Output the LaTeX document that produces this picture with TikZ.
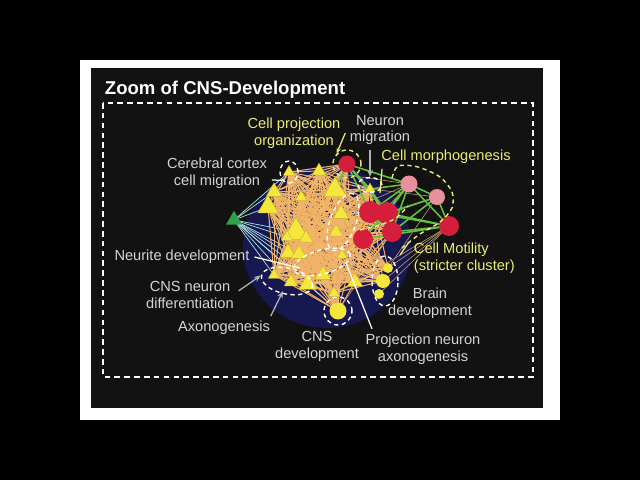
\documentclass[tikz,border=0pt]{standalone}
\usepackage{fontspec}
\setmainfont{Liberation Sans}
\usetikzlibrary{shapes.geometric,arrows.meta}

\definecolor{panelblack}{HTML}{121212}
\definecolor{blobnavy}{HTML}{17184F}
\definecolor{labelgrey}{HTML}{D4D4D4}
\definecolor{labelyel}{HTML}{ECEC74}
\definecolor{nodeyel}{HTML}{F4E63A}
\definecolor{nodered}{HTML}{D41E3C}
\definecolor{nodepink}{HTML}{E8909C}
\definecolor{meshorange}{HTML}{F2B468}
\definecolor{fancyan}{HTML}{A8E2E8}
\definecolor{linkgreen}{HTML}{62C43E}
\definecolor{linktan}{HTML}{C8A070}
\definecolor{leafgreen}{HTML}{2EA44A}

\pgfdeclarelayer{back}
\pgfdeclarelayer{links}
\pgfsetlayers{back,links,main}

\tikzset{
  tri/.style={regular polygon, regular polygon sides=3, fill=nodeyel, draw=nodeyel!75!black, line width=0.2pt, inner sep=0pt, minimum size=#1*0.033cm},
  dot/.style={circle, fill=nodeyel, inner sep=0pt, minimum size=#1*0.025cm},
  reddot/.style={circle, fill=nodered, inner sep=0pt, minimum size=#1*0.025cm},
  pinkdot/.style={circle, fill=nodepink, inner sep=0pt, minimum size=#1*0.025cm},
  lbl/.style={text=labelgrey, align=center},
  ylbl/.style={text=labelyel, align=center},
  clus/.style={draw=white, line width=1pt, dash pattern=on 3pt off 2.5pt, inner sep=0pt},
  yclus/.style={draw=labelyel, line width=1pt, dash pattern=on 3pt off 2.5pt, inner sep=0pt},
  pointer/.style={draw=white, line width=0.9pt},
  gpointer/.style={draw=labelgrey!85!black, line width=0.9pt, -{Stealth[length=5pt,width=4pt]}},
  ypointer/.style={draw=labelyel, line width=0.9pt},
  mesh/.style={draw=meshorange, line width=0.7pt},
  fan/.style={draw=fancyan, line width=0.5pt},
  greenlink/.style={draw=linkgreen, line width=1.1pt},
  tanlink/.style={draw=linktan, line width=0.4pt},
}

\begin{document}
\begin{tikzpicture}[x=0.025cm, y=-0.025cm, font=\fontsize{10.4}{12}\selectfont]
  % frame and panel
  \begin{pgfonlayer}{back}
    \fill[black] (0,0) rectangle (640,480);
    \fill[white] (80,60) rectangle (560,420);
    \fill[panelblack] (91,68) rectangle (543,408);
    \draw[white, line width=1.2pt, dash pattern=on 4pt off 3pt] (103,103) rectangle (533,377);
    \fill[blobnavy] (327,247) ellipse [x radius=84, y radius=81];
  \end{pgfonlayer}
  \node[anchor=base west, text=white, font=\bfseries\fontsize{13.2}{15}\selectfont] (title) at (100,94) {Zoom of CNS-Development};

  % yellow triangles
  \node[tri=10] (t1) at (289,172) {};
  \node[tri=12] (t2) at (319,171) {};
  \node[tri=14] (t3) at (274,192) {};
  \node[tri=10] (t4) at (301,197) {};
  \node[tri=20] (t5) at (335,190) {};
  \node[tri=18] (t6) at (268,207) {};
  \node[tri=14] (t7) at (341,214) {};
  \node[tri=22] (t8) at (296,232) {};
  \node[tri=12] (t9) at (306,238) {};
  \node[tri=12] (t10) at (336,232) {};
  \node[tri=14] (t11) at (288,253) {};
  \node[tri=14] (t12) at (299,254) {};
  \node[tri=9] (t13) at (342,255) {};
  \node[tri=10] (t14) at (274,275) {};
  \node[tri=12] (t15) at (291,282) {};
  \node[tri=16] (t16) at (308,284) {};
  \node[tri=14] (t17) at (323,275) {};
  \node[tri=14] (t18) at (355,282) {};
  \node[tri=10] (t19) at (334,293) {};
  \node[tri=9] (t20) at (370,189) {};
  \node[tri=10] (t21) at (287,237) {};
  \node[regular polygon, regular polygon sides=3, fill=leafgreen, inner sep=0pt, minimum size=14*0.033cm] (g) at (234,220) {};

  % circles
  \node[dot=17] (c1) at (338,311) {};
  \node[dot=10] (c2) at (388,268) {};
  \node[dot=14] (c3) at (383,281) {};
  \node[dot=10] (c4) at (379,294) {};
  \node[reddot=17] (r1) at (347,164) {};
  \node[reddot=22] (r2) at (370,212) {};
  \node[reddot=22] (r3) at (387,213) {};
  \node[reddot=20] (r4) at (392,232) {};
  \node[reddot=20] (r5) at (363,239) {};
  \node[reddot=20] (r6) at (449,226) {};
  \node[pinkdot=17] (p1) at (409,184) {};
  \node[pinkdot=16] (p2) at (437,197) {};

  % links
  \begin{pgfonlayer}{links}
    \foreach \t in {t1,t3,t6,t21,t8,t11,t12,t14,t15,t16,t19,c1}
      \draw[fan] (g.center) -- (\t.center);
    \foreach \i in {1,...,20}{
      \pgfmathtruncatemacro{\inext}{\i+1}
      \foreach \j in {\inext,...,21}
        \draw[mesh] (t\i.center) -- (t\j.center);
    }
    \foreach \t in {1,...,21}
      \foreach \o in {r1,r2,r3,r4,r5,c1,c2,c3}
        \draw[mesh] (t\t.center) -- (\o.center);
    \foreach \a/\b in {r6/c2,r6/c3,r6/c4,p2/c2,r4/c1,p1/t13,p2/t20,r6/t18,p1/t7,p2/t10,r6/r5,p1/t2}
      \draw[tanlink] (\a.center) -- (\b.center);
    \foreach \a/\b in {r1/r2,r1/r3,r1/p1,r2/p1,r3/p1,r3/p2,p1/p2,p1/r6,p2/r6,r2/r6,r3/r6,r4/r6,r4/p1,r5/p1,r2/r4,r5/r3,r4/p2,t20/p1,t20/r3,r1/t20,r1/t5,r5/r6}
      \draw[greenlink] (\a.center) -- (\b.center);
  \end{pgfonlayer}

  % clusters
  \node[clus, ellipse, minimum width=18*0.025cm, minimum height=22*0.025cm] (ccm) at (289,172) {};
  \node[yclus, circle, minimum size=28*0.025cm] (cpo) at (347,164) {};
  \node[clus, ellipse, minimum width=24*0.025cm, minimum height=15*0.025cm] (nm) at (370,185) {};
  \node[clus, ellipse, minimum width=26*0.025cm, minimum height=50*0.025cm] (bd) at (385,281) {};
  \node[clus, circle, minimum size=28*0.025cm] (cd) at (338,311) {};
  \node[clus, ellipse, rotate=-12, minimum width=52*0.025cm, minimum height=26*0.025cm] (cnsneur) at (287,281) {};
  \node[clus, ellipse, rotate=15, minimum width=58*0.025cm, minimum height=24*0.025cm] (ndev) at (322,262) {};
  \node[clus, ellipse, rotate=70, minimum width=60*0.025cm, minimum height=26*0.025cm] (pna) at (343,222) {};
  \draw[yclus] plot[smooth] coordinates {(392,178) (398,166) (418,167) (440,177) (452,192) (452,208) (440,222) (420,234) (402,248)};
  \draw[yclus] plot[smooth] coordinates {(360,230) (380,225) (396,218) (408,206)};

  % labels
  \node[ylbl] (lblcpo) at (294,133) {Cell projection\\organization};
  \node[lbl] (lblnm) at (380,130) {Neuron\\migration};
  \node[ylbl] (lblcm) at (446,157) {Cell morphogenesis};
  \node[lbl] (lblccm) at (217,173) {Cerebral cortex\\cell migration};
  \node[lbl] (lblnd) at (182,257) {Neurite development};
  \node[lbl] (lblcnd) at (190,295) {CNS neuron\\differentiation};
  \node[lbl] (lblaxo) at (224,328) {Axonogenesis};
  \node[lbl] (lblcd) at (317,346) {CNS\\development};
  \node[lbl] (lblpna) at (423,349) {Projection neuron\\axonogenesis};
  \node[lbl] (lblbd) at (430,303) {Brain\\development};
  \node[ylbl, align=left, anchor=west] (lblmot) at (409,258) {Cell Motility\\(stricter cluster)};

  % pointers
  \coordinate (cmt) at (380,193);
  \coordinate (ndt) at (300,268);
  \coordinate (axt) at (283,291);
  \coordinate (pnat) at (346,263);
  \coordinate (mott) at (400,255);
  \draw[ypointer, -{Stealth[length=4pt,width=3pt]}] (lblcpo.east) -- (cpo.north west);
  \draw[gpointer] (lblnm.south -| nm.north) -- (nm.north);
  \draw[ypointer] ([xshift=4pt]lblcm.south west) -- (cmt);
  \draw[pointer] ([yshift=-5pt]lblccm.east) -- (ccm.south west);
  \draw[pointer] (lblnd.east) -- (ndt);
  \draw[gpointer] ([yshift=3pt]lblcnd.east) -- (cnsneur.west);
  \draw[gpointer] ([xshift=-3pt]lblaxo.north east) -- (axt);
  \draw[pointer] ([xshift=8pt]lblpna.north west) -- (pnat);
  \draw[ypointer] ([yshift=-3pt]lblmot.north west) -- (mott);
\end{tikzpicture}
\end{document}
